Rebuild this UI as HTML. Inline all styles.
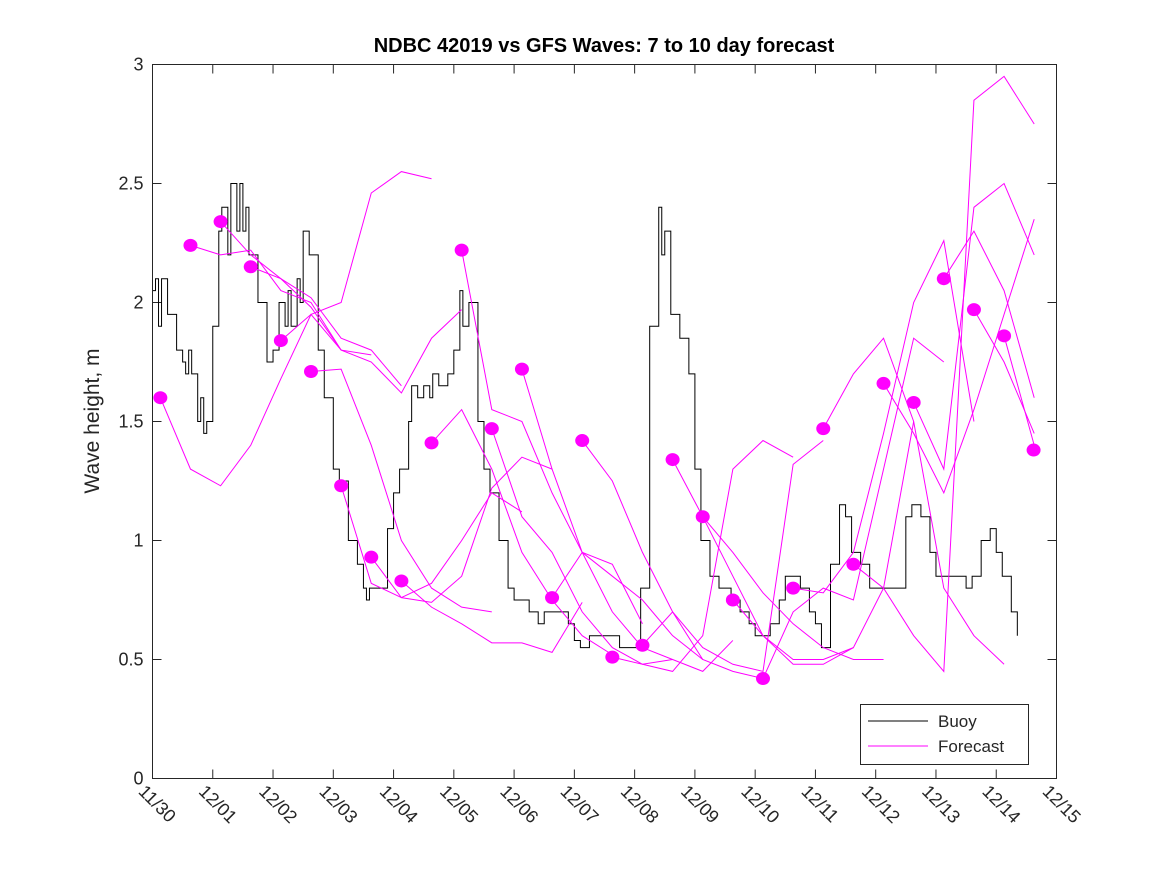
<!DOCTYPE html>
<html><head><meta charset="utf-8"><style>
body{margin:0;background:#fff;}
svg{display:block;font-family:"Liberation Sans","DejaVu Sans",sans-serif;}
</style></head><body>
<svg id="chart" width="1167" height="875">
<rect width="1167" height="875" fill="#fff"/>
<text x="604" y="52" text-anchor="middle" font-size="20" font-weight="bold">NDBC 42019 vs GFS Waves: 7 to 10 day forecast</text>
<text transform="translate(99,421) rotate(-90)" text-anchor="middle" font-size="21" fill="#262626">Wave height, m</text>
<g id="grid"></g>
<g id="series"></g>
<rect x="152.5" y="64.5" width="904" height="714" fill="none" stroke="#262626"/>
<g>
<rect x="860.5" y="704.5" width="168" height="60" fill="#fff" stroke="#262626"/>
<line x1="868" y1="721" x2="928" y2="721" stroke="#000"/>
<text x="938" y="727" font-size="17" fill="#262626">Buoy</text>
<line x1="868" y1="746" x2="928" y2="746" stroke="#f0f"/>
<text x="938" y="752" font-size="17" fill="#262626">Forecast</text>
</g>
</svg>
<script>
const xTickLabels=["11/30","12/01","12/02","12/03","12/04","12/05","12/06","12/07","12/08","12/09","12/10","12/11","12/12","12/13","12/14","12/15"];
const yTicks=[0,0.5,1,1.5,2,2.5,3];
const yTickLabels=["0","0.5","1","1.5","2","2.5","3"];
const buoyDays=[0,0.05,0.1,0.15,0.25,0.4,0.5,0.55,0.6,0.65,0.75,0.8,0.85,0.9,1.0,1.1,1.15,1.25,1.3,1.4,1.45,1.5,1.55,1.6,1.75,1.9,2.0,2.1,2.2,2.25,2.3,2.4,2.45,2.5,2.6,2.75,2.85,3.0,3.1,3.25,3.4,3.5,3.55,3.6,3.75,3.9,4.0,4.1,4.25,4.3,4.4,4.5,4.6,4.65,4.75,4.9,5.0,5.1,5.15,5.25,5.4,5.5,5.6,5.75,5.9,6.0,6.1,6.25,6.4,6.5,6.6,6.75,6.9,7.0,7.1,7.25,7.5,7.75,8.0,8.1,8.25,8.4,8.45,8.5,8.6,8.75,8.9,9.0,9.1,9.25,9.4,9.5,9.6,9.75,9.9,10.0,10.1,10.25,10.4,10.5,10.6,10.75,10.9,11.0,11.1,11.25,11.4,11.5,11.6,11.75,11.9,12.0,12.25,12.4,12.5,12.6,12.75,12.9,13.0,13.25,13.5,13.6,13.75,13.9,14.0,14.1,14.25,14.35];
const buoyVals=[2.05,2.1,1.9,2.1,1.95,1.8,1.75,1.7,1.8,1.7,1.5,1.6,1.45,1.5,1.9,2.3,2.4,2.2,2.5,2.3,2.5,2.3,2.4,2.2,2.0,1.75,1.8,2.0,1.9,2.05,1.9,2.1,2.0,2.3,2.2,1.8,1.6,1.3,1.25,1.0,0.9,0.8,0.75,0.8,0.8,1.05,1.2,1.3,1.5,1.65,1.6,1.65,1.6,1.7,1.65,1.7,1.8,2.05,1.9,2.0,1.5,1.3,1.2,1.0,0.8,0.75,0.75,0.7,0.65,0.7,0.7,0.7,0.65,0.58,0.55,0.6,0.6,0.55,0.55,0.8,1.9,2.4,2.2,2.3,1.95,1.85,1.7,1.3,1.0,0.85,0.8,0.8,0.75,0.7,0.65,0.6,0.6,0.65,0.75,0.85,0.85,0.8,0.7,0.65,0.55,0.9,1.15,1.1,0.95,0.9,0.8,0.8,0.8,0.8,1.1,1.15,1.1,0.95,0.85,0.85,0.8,0.85,1.0,1.05,0.95,0.85,0.7,0.6];
const fcStart=[0.13,0.63,1.13,1.63,2.13,2.63,3.13,3.63,4.13,4.63,5.13,5.63,6.13,6.63,7.13,7.63,8.13,8.63,9.13,9.63,10.13,10.63,11.13,11.63,12.13,12.63,13.13,13.63,14.13,14.62];
const fc1=[1.6,1.3,1.23,1.4,1.68,1.95,1.8];
const fc2=[2.24,2.2,2.22,2.05,2.0,1.8,1.78];
const fc3=[2.34,2.2,2.1,2.02,1.85,1.8,1.65];
const fc4=[2.15,2.1,1.98,1.8,1.75,1.62,1.85,1.97];
const fc5=[1.84,1.95,2.0,2.46,2.55,2.52];
const fc6=[1.71,1.72,1.4,1.0,0.8,0.72,0.7];
const fc7=[1.23,0.82,0.76,0.82,1.0,1.2,1.12];
const fc8=[0.93,0.76,0.74,0.85,1.22,1.35,1.3];
const fc9=[0.83,0.72,0.65,0.57,0.57,0.53,0.74];
const fc10=[1.41,1.55,1.3,0.95,0.75,0.6,0.52];
const fc11=[2.22,1.55,1.5,1.2,0.95,0.9,0.65];
const fc12=[1.47,1.1,0.95,0.7,0.55,0.48,0.5];
const fc13=[1.72,1.3,0.95,0.85,0.75,0.6,0.5];
const fc14=[0.76,0.95,0.7,0.55,0.5,0.45,0.58];
const fc15=[1.42,1.25,0.95,0.7,0.5,0.45,0.42];
const fc16=[0.51,0.48,0.45,0.6,1.3,1.42,1.35];
const fc17=[0.56,0.7,0.55,0.48,0.45,1.32,1.42];
const fc18=[1.34,1.1,0.85,0.6,0.5,0.5,0.55];
const fc19=[1.1,0.95,0.78,0.65,0.55,0.5,0.5];
const fc20=[0.75,0.6,0.48,0.48,0.55,0.8,1.5];
const fc21=[0.42,0.7,0.8,0.75,1.3,1.85,1.75];
const fc22=[0.8,0.78,0.95,1.45,2.0,2.26,1.5];
const fc23=[1.47,1.7,1.85,1.5,0.8,0.6,0.48];
const fc24=[0.9,0.8,0.6,0.45,2.85,2.95,2.75];
const fc25=[1.66,1.45,1.2,1.55,1.95,2.35,2.0];
const fc26=[1.58,1.3,2.4,2.5,2.2,1.55,1.35];
const fc27=[2.1,2.3,2.05,1.6,1.1,0.95,0.93];
const fc28=[1.97,1.75,1.45,1.25,1.15,1.0,1.0];
const fc29=[1.86,1.4,1.32,1.15,1.0];
const fc30=[1.38,1.35,1.5];
const fcStep=0.5;
const forecasts=[fc1,fc2,fc3,fc4,fc5,fc6,fc7,fc8,fc9,fc10,fc11,fc12,fc13,fc14,fc15,fc16,fc17,fc18,fc19,fc20,fc21,fc22,fc23,fc24,fc25,fc26,fc27,fc28,fc29,fc30];

const NS="http://www.w3.org/2000/svg";
const X0=152.5,X1=1056.5,Y0=778.5,Y1=64.5,DMAX=15,VMAX=3;
function xs(d){return X0+(d/DMAX)*(X1-X0);}
function ys(v){return Y0-(v/VMAX)*(Y0-Y1);}
function mk(t,a,p){const e=document.createElementNS(NS,t);for(const k in a)e.setAttribute(k,a[k]);p.appendChild(e);return e;}
const grid=document.getElementById('grid'),ser=document.getElementById('series');
xTickLabels.forEach((lab,i)=>{
  const x=xs(i);
  const t1=mk('line',{x1:x,y1:Y0,x2:x,y2:Y0-9,stroke:'#262626'},grid);
  
  
  const t2=mk('line',{x1:x,y1:Y1,x2:x,y2:Y1+9,stroke:'#262626'},grid);
  
  
  const tx=mk('text',{x:0,y:0,'font-size':18,fill:'#262626',transform:`translate(${x-15},${Y0+14}) rotate(45)`},grid);
  tx.textContent=lab;
  
  
});
yTicks.forEach((v,i)=>{
  const y=ys(v);
  const t1=mk('line',{x1:X0,y1:y,x2:X0+9,y2:y,stroke:'#262626'},grid);
  
  
  const t2=mk('line',{x1:X1,y1:y,x2:X1-9,y2:y,stroke:'#262626'},grid);
  
  
  const tx=mk('text',{x:X0-9,y:y+6,'font-size':18,fill:'#262626','text-anchor':'end'},grid);
  tx.textContent=yTickLabels[i];
  
  
});
let d='';
buoyDays.forEach((dd,i)=>{
  const x=xs(dd),y=ys(buoyVals[i]);
  if(i===0)d+=`M${x},${y}`;else d+=`H${x}V${y}`;
});
const bp=mk('path',{d:d,fill:'none',stroke:'#000','stroke-width':1},ser);


forecasts.forEach((arr,k)=>{
  const s=fcStart[k];
  const pts=[];
  arr.forEach((v,j)=>{const dd=s+j*fcStep;if(dd<=DMAX)pts.push(xs(dd)+','+ys(v));});
  const pl=mk('polyline',{points:pts.join(' '),fill:'none',stroke:'#f0f','stroke-width':1},ser);
  
  
});
forecasts.forEach((arr,k)=>{
  const c=mk('ellipse',{cx:xs(fcStart[k]),cy:ys(arr[0]),rx:7,ry:6.5,fill:'#f0f'},ser);
  
  
});
</script>
</body></html>
